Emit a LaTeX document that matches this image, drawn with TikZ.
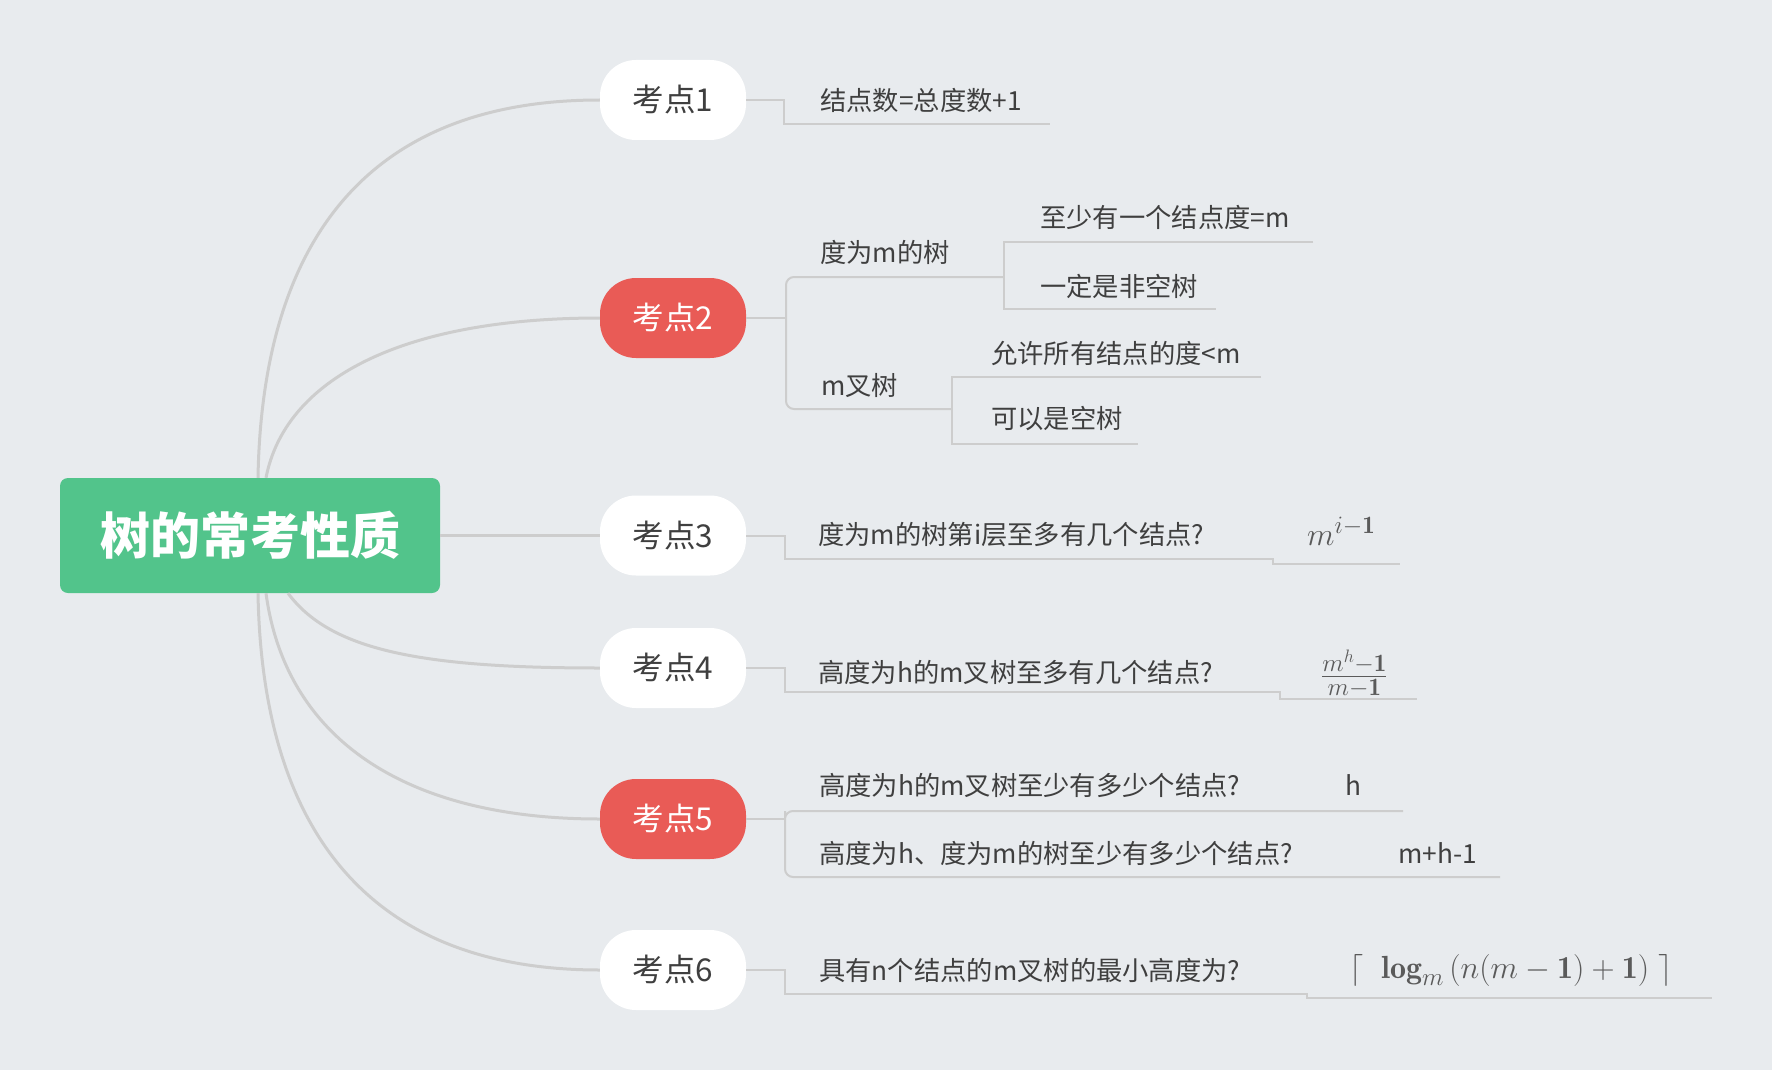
\documentclass[tikz,border=0pt]{standalone}
\usepackage{fix-cm}
\usepackage{amsmath}
\usepackage{fontspec}
\newfontfamily\cjk{Noto Sans CJK SC}
\usetikzlibrary{positioning,calc}
\DeclareMathSizes{32}{32}{25}{18}

\definecolor{bgcol}{HTML}{E8EBEE}
\definecolor{rootcol}{HTML}{52C48B}
\definecolor{hotcol}{HTML}{E95B56}
\definecolor{txtcol}{HTML}{3F3F3F}
\definecolor{linecol}{HTML}{CDCDCD}
\definecolor{mathcol}{HTML}{5A5A5A}

\begin{document}
\begin{tikzpicture}[x=1pt, y=-1pt,
  root/.style={fill=rootcol, rounded corners=8pt, minimum width=380pt, minimum height=115pt, text=white, font=\cjk\bfseries\fontsize{50}{56}\selectfont},
  pill/.style={fill=white, rounded corners=36pt, minimum width=146pt, minimum height=80pt, inner sep=0pt, text=txtcol, font=\cjk\fontsize{31.5}{34}\selectfont},
  pillhot/.style={pill, fill=hotcol, text=white},
  leaf/.style={anchor=west, inner sep=0pt, text=txtcol, font=\cjk\fontsize{26.3}{30}\selectfont},
  formula/.style={anchor=west, inner sep=0pt, text=mathcol, font=\fontsize{32}{36}\selectfont},
  branch/.style={draw=linecol, line width=3pt},
  link/.style={draw=linecol, line width=2pt}
]
\fill[bgcol] (0,0) rectangle (1772,1070);
\useasboundingbox (0,0) rectangle (1772,1070);

% centre and main topics
\node[root] (root) at (250,535.5) {树的常考性质};
\node[pill] (k1) at (673,100) {考点1};
\node[pillhot] (k2) at (673,318) {考点2};
\node[pill] (k3) at (673,535.5) {考点3};
\node[pill] (k4) at (673,668) {考点4};
\node[pillhot] (k5) at (673,819) {考点5};
\node[pill] (k6) at (673,970) {考点6};

\draw[branch] ($(root.north)+(8,0)$) .. controls (262,250) and (360,100) .. (k1.west);
\draw[branch] ($(root.north)+(16,0)$) .. controls (285,380) and (400,318) .. (k2.west);
\draw[branch] (root.east) -- (k3.west);
\draw[branch] ($(root.south)+(38,0)$) .. controls (330,650) and (420,668) .. (k4.west);
\draw[branch] ($(root.south)+(16,0)$) .. controls (285,735) and (400,819) .. (k5.west);
\draw[branch] ($(root.south)+(8,0)$) .. controls (262,820) and (360,970) .. (k6.west);

% 考点1
\node[leaf] (n1) at (820,100) {结点数=总度数+1};
\coordinate (n1s) at (784,124);
\coordinate (n1e) at (1050,124);
\draw[link] (k1.east) -| (n1s) -- (n1e);

% 考点2
\node[leaf] (n2a) at (820,252) {度为m的树};
\node[leaf] (n2b) at (821,386) {m叉树};
\node[leaf] (n2a1) at (1040,217) {至少有一个结点度=m};
\node[leaf] (n2a2) at (1040,286) {一定是非空树};
\node[leaf] (n2b1) at (991,353) {允许所有结点的度<m};
\node[leaf] (n2b2) at (991,419) {可以是空树};
\coordinate (j2) at (786,318);
\coordinate (n2ae) at (1004,277);
\coordinate (n2be) at (952,409);
\draw[link] (k2.east) -- (j2);
\draw[link, rounded corners=8pt] (n2ae) -| (j2) |- (n2be);
\draw[link] (1313,242) -- (1004,242) -- (1004,309) -- (1216,309);
\draw[link] (1261,377) -- (952,377) -- (952,444) -- (1138,444);

% 考点3
\node[leaf] (n3) at (818,535) {度为m的树第i层至多有几个结点?};
\node[formula] (f3) at (1307,531) {$m^{i-\mathbf{1}}$};
\draw[link] (k3.east) -| (785,559) -- (1273,559) -- (1273,564) -- (1400,564);

% 考点4
\node[leaf] (n4) at (818,672) {高度为h的m叉树至多有几个结点?};
\node[formula] (f4) at (1321,674) {$\frac{m^h-\mathbf{1}}{m-\mathbf{1}}$};
\draw[link] (k4.east) -| (785,692) -- (1280,692) -- (1280,699) -- (1417,699);

% 考点5
\node[leaf] (n5a) at (819,785) {高度为h的m叉树至少有多少个结点?};
\node[leaf] (n5a1) at (1345,785) {h};
\node[leaf] (n5b) at (819,853) {高度为h、度为m的树至少有多少个结点?};
\node[leaf] (n5b1) at (1398,853) {m+h-1};
\coordinate (j5) at (785,819);
\draw[link] (k5.east) -- (j5);
\draw[link, rounded corners=8pt] (1403,811) -| (j5) |- (1500,877);

% 考点6
\node[leaf] (n6) at (819,970) {具有n个结点的m叉树的最小高度为?};
\node[formula] (f6) at (1349,970) {$\lceil\;\;\mathbf{log}_m\,(n(m-\mathbf{1})\mathbin{\mathbf{+}}\mathbf{1})\;\rceil$};
\draw[link] (k6.east) -| (785,994) -- (1307,994) -- (1307,998) -- (1712,998);
\end{tikzpicture}
\end{document}
